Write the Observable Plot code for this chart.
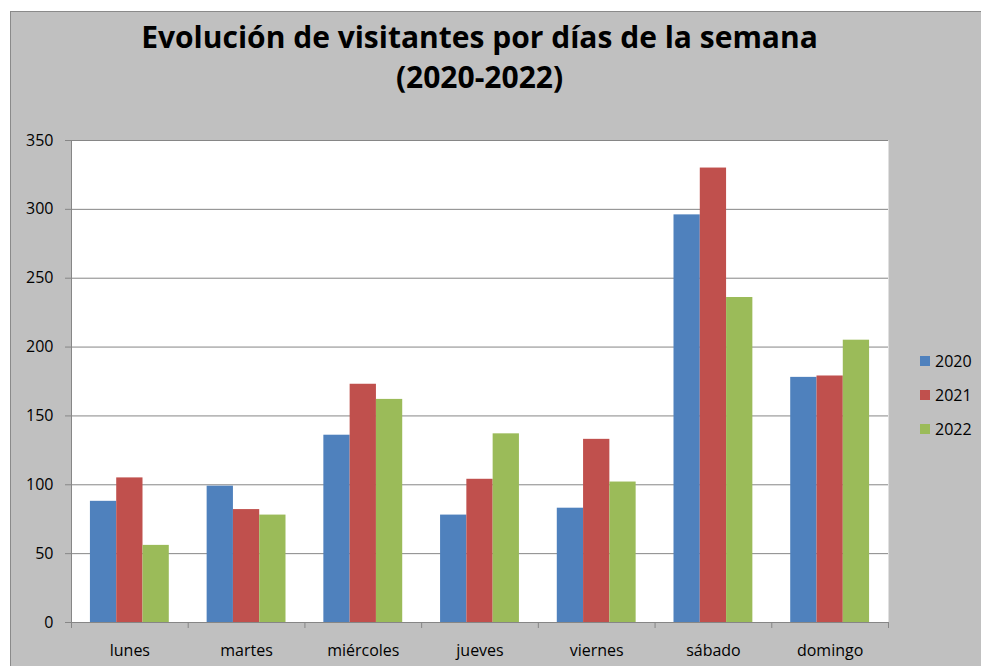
<!DOCTYPE html>
<html>
<head>
<meta charset="utf-8">
<script src="https://cdn.jsdelivr.net/npm/d3@7"></script>
<script src="https://cdn.jsdelivr.net/npm/@observablehq/plot@0.6"></script>
<style>
  html, body { margin: 0; padding: 0; background: #fff; }
  body { width: 981px; height: 666px; position: relative; overflow: hidden; font-family: "Open Sans", sans-serif; }
  #panel { position: absolute; left: 10px; top: 11px; width: 971px; height: 655px; background: #c0c0c0;
           border-left: 1px solid #8a8a8a; border-top: 1px solid #8a8a8a; box-sizing: border-box; }
  .layer { position: absolute; left: 0; top: 0; }
  #title { position: absolute; left: 71px; width: 817px; top: 17px; text-align: center; font-weight: 700;
           font-size: 30px; line-height: 40px; color: #000; }
  .lg { position: absolute; left: 920px; height: 20px; display: flex; align-items: center; font-size: 16px; color: #000; }
  .lg span.sw { width: 10px; height: 10px; margin-right: 5px; display: inline-block; }
</style>
</head>
<body>
<div id="panel"></div>
<div id="title">Evolución de visitantes por días de la semana<br>(2020-2022)</div>
<div id="base" class="layer"></div>
<div id="main" class="layer"></div>
<div id="overlay" class="layer"></div>
<div id="legend"></div>
<script>
const days = ["lunes", "martes", "miércoles", "jueves", "viernes", "sábado", "domingo"];
const years = ["2020", "2021", "2022"];
const colors = ["#4f81bd", "#c0504d", "#9bbb59"];
const v2020 = [88, 99, 136, 78, 83, 296, 178];
const v2021 = [105, 82, 173, 104, 133, 330, 179];
const v2022 = [56, 78, 162, 137, 102, 236, 205];
const yTicks = [0, 50, 100, 150, 200, 250, 300, 350];

const series = {"2020": v2020, "2021": v2021, "2022": v2022};
const data = [];
days.forEach((d, i) => years.forEach(y => data.push({day: d, year: y, value: series[y][i]})));

const W = 981, H = 666;
const M = {marginLeft: 71, marginRight: 93, marginTop: 140, marginBottom: 44};
const lineColor = "#868686";
const style = {fontFamily: "Open Sans", fontSize: "16px", background: "transparent", color: "#000", overflow: "visible"};

// base layer: white plot area and horizontal gridlines
const base = Plot.plot({
  width: W, height: H, ...M, style,
  x: {domain: [0, days.length], axis: null},
  y: {domain: [0, 350], axis: null},
  marks: [
    Plot.frame({fill: "#ffffff", stroke: null}),
    Plot.gridY(yTicks.filter(t => t > 0), {stroke: lineColor, strokeOpacity: 1})
  ]
});
document.getElementById("base").appendChild(base);

// bars, grouped by day (fx) and year (x)
const main = Plot.plot({
  width: W, height: H, ...M, style,
  fx: {domain: days, padding: 0, round: false, label: null},
  x: {domain: years, paddingInner: 0, paddingOuter: 0.72, round: false, axis: null},
  y: {domain: [0, 350], axis: null},
  color: {domain: years, range: colors},
  marks: [
    Plot.barY(data, {fx: "day", x: "year", y: "value", fill: "year", inset: 0}),
    Plot.axisFx({anchor: "bottom", tickSize: 0, tickPadding: 22, label: null, fill: "#000"})
  ]
});
document.getElementById("main").appendChild(main);

// axes lines, category boundary ticks and y axis
const overlay = Plot.plot({
  width: W, height: H, ...M, style,
  x: {domain: [0, days.length]},
  y: {domain: [0, 350]},
  marks: [
    Plot.ruleX([0], {stroke: lineColor}),
    Plot.ruleY([0], {stroke: lineColor}),
    Plot.axisX({ticks: d3.range(days.length + 1), tickSize: 6, tickFormat: () => "", stroke: lineColor, label: null}),
    Plot.axisY({ticks: yTicks, tickSize: 6, tickPadding: 12, stroke: lineColor, fill: "#000", label: null})
  ]
});
document.getElementById("overlay").appendChild(overlay);

const lg = document.getElementById("legend");
years.forEach((y, i) => {
  const row = document.createElement("div");
  row.className = "lg";
  row.style.top = (351 + i * 34) + "px";
  row.innerHTML = `<span class="sw" style="background:${colors[i]}"></span>${y}`;
  lg.appendChild(row);
});
</script>
</body>
</html>
